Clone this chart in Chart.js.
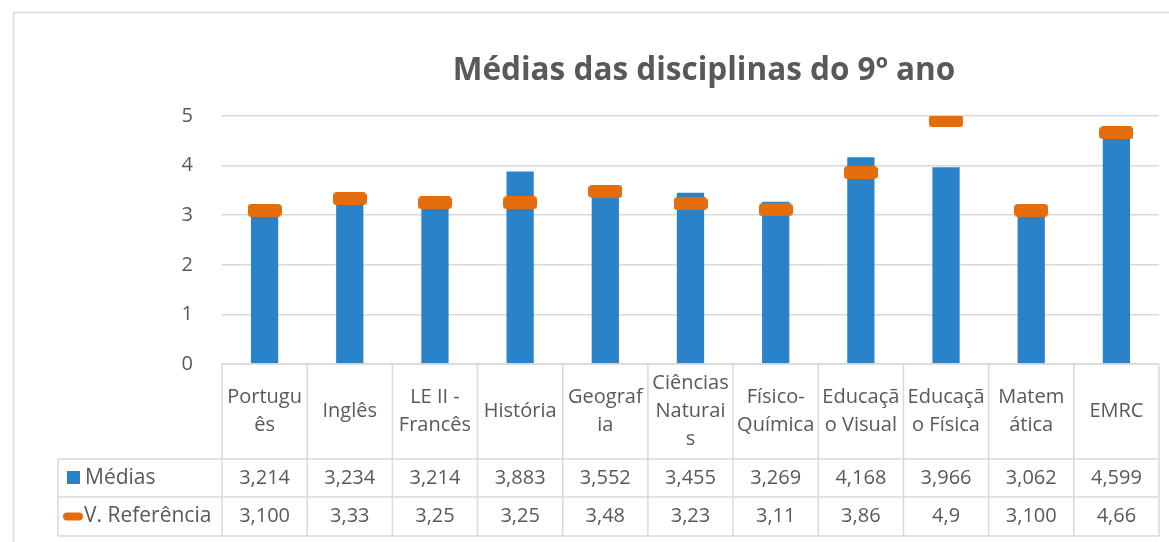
<!DOCTYPE html>
<html lang="pt">
<head>
<meta charset="UTF-8" />
<title>Médias das disciplinas do 9º ano</title>
<style>
  body { margin: 0; padding: 0; background: #fff; }
  #wrap { width: 1169px; height: 542px; position: relative; }
</style>
</head>
<body>
<div id="wrap"><canvas id="chart"></canvas></div>

<script src="https://cdn.jsdelivr.net/npm/chart.js"></script>
<script>
  // dados do gráfico
  const titulo = 'Médias das disciplinas do 9º ano';
  const disciplinas = [
    ['Portugu', 'ês'], ['Inglês'], ['LE II -', 'Francês'], ['História'], ['Geograf', 'ia'],
    ['Ciências', 'Naturai', 's'], ['Físico-', 'Química'], ['Educaçã', 'o Visual'],
    ['Educaçã', 'o Física'], ['Matem', 'ática'], ['EMRC']
  ];
  const medias = [3.214, 3.234, 3.214, 3.883, 3.552, 3.455, 3.269, 4.168, 3.966, 3.062, 4.599];
  const referencia = [3.1, 3.33, 3.25, 3.25, 3.48, 3.23, 3.11, 3.86, 4.9, 3.1, 4.66];
  const mediasTxt = ['3,214', '3,234', '3,214', '3,883', '3,552', '3,455', '3,269', '4,168', '3,966', '3,062', '4,599'];
  const referenciaTxt = ['3,100', '3,33', '3,25', '3,25', '3,48', '3,23', '3,11', '3,86', '4,9', '3,100', '4,66'];
  const yTicks = [0, 1, 2, 3, 4, 5];

  const AZUL = '#2a82c9';
  const LARANJA = '#e46c0a';
  const CINZA = '#595959';
  const LINHA = '#d9d9d9';
  const FONTE = '"Open Sans", sans-serif';

  // marcador em forma de traço (como no Excel)
  function tracoMarker(w, h) {
    const c = document.createElement('canvas');
    c.width = w; c.height = h;
    const g = c.getContext('2d');
    g.fillStyle = LARANJA;
    g.beginPath();
    g.roundRect(0, 0, w, h, 4);
    g.fill();
    return c;
  }
  const marcador = tracoMarker(34, 13);

  // moldura, título e tabela de dados
  const tabelaPlugin = {
    id: 'tabela',
    beforeDraw(chart) {
      const ctx = chart.ctx;
      ctx.save();
      ctx.strokeStyle = LINHA;
      ctx.lineWidth = 1.5;
      ctx.strokeRect(13.5, 12.5, 1300, 600);
      ctx.fillStyle = CINZA;
      ctx.font = 'bold 31.5px ' + FONTE;
      ctx.textAlign = 'center';
      ctx.textBaseline = 'middle';
      ctx.fillText(titulo, 704, 71);
      ctx.restore();
    },
    afterDraw(chart) {
      const ctx = chart.ctx;
      const x = chart.scales.x;
      const area = chart.chartArea;
      const n = disciplinas.length;
      const colW = (area.right - area.left) / n;
      const top = area.bottom, r1 = 459, r2 = 497, r3 = 536, legLeft = 58;

      ctx.save();
      ctx.strokeStyle = LINHA;
      ctx.lineWidth = 1.5;
      ctx.beginPath();
      ctx.moveTo(area.left, top); ctx.lineTo(area.right, top);
      [r1, r2, r3].forEach(y => { ctx.moveTo(legLeft, y); ctx.lineTo(area.right, y); });
      ctx.moveTo(legLeft, r1); ctx.lineTo(legLeft, r3);
      for (let i = 0; i <= n; i++) {
        const bx = area.left + i * colW;
        ctx.moveTo(bx, top); ctx.lineTo(bx, r3);
      }
      ctx.stroke();

      ctx.fillStyle = CINZA;
      ctx.font = '20px ' + FONTE;
      ctx.textAlign = 'center';
      ctx.textBaseline = 'middle';
      const lh = 28;
      disciplinas.forEach((linhas, i) => {
        const cx = x.getPixelForTick(i);
        const y0 = (top + r1) / 2 - (linhas.length - 1) * lh / 2;
        linhas.forEach((t, k) => ctx.fillText(t, cx, y0 + k * lh));
        ctx.fillText(mediasTxt[i], cx, (r1 + r2) / 2);
        ctx.fillText(referenciaTxt[i], cx, (r2 + r3) / 2);
      });

      // legenda dentro da tabela
      ctx.textAlign = 'left';
      ctx.fillStyle = AZUL;
      ctx.fillRect(67, (r1 + r2) / 2 - 7, 13, 13);
      ctx.fillStyle = LARANJA;
      ctx.beginPath();
      ctx.roundRect(63, (r2 + r3) / 2 - 4, 20, 8, 4);
      ctx.fill();
      ctx.fillStyle = CINZA;
      ctx.font = '21px ' + FONTE;
      ctx.fillText('Médias', 85, (r1 + r2) / 2);
      ctx.fillText('V. Referência', 84, (r2 + r3) / 2);
      ctx.restore();
    }
  };

  new Chart(document.getElementById('chart'), {
    data: {
      labels: disciplinas.map(d => d.join('')),
      datasets: [
        {
          type: 'line',
          label: 'V. Referência',
          data: referencia,
          showLine: false,
          pointStyle: marcador,
          pointRadius: 8,
          order: 0
        },
        {
          type: 'bar',
          label: 'Médias',
          data: medias,
          backgroundColor: AZUL,
          categoryPercentage: 1,
          barPercentage: 0.32,
          order: 1
        }
      ]
    },
    options: {
      responsive: true,
      maintainAspectRatio: false,
      animation: false,
      layout: { padding: { top: 116, right: 10, left: 0, bottom: 0 } },
      plugins: {
        legend: { display: false },
        title: { display: false },
        tooltip: { enabled: false }
      },
      scales: {
        x: {
          ticks: { display: false },
          grid: { display: false },
          border: { display: false },
          afterFit(s) { s.height = 178; }
        },
        y: {
          min: 0, max: 5,
          afterBuildTicks(s) { s.ticks = yTicks.map(v => ({ value: v })); },
          afterFit(s) { s.width = 222; },
          ticks: { color: CINZA, padding: 29, font: { family: FONTE, size: 20 } },
          grid: { color: LINHA, lineWidth: 1.5, drawTicks: false },
          border: { display: false }
        }
      }
    },
    plugins: [tabelaPlugin]
  });
</script>
</body>
</html>
